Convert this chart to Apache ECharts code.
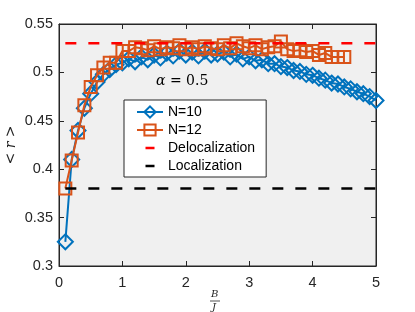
<!DOCTYPE html>
<html>
<head>
<meta charset="utf-8">
<script src="https://cdn.jsdelivr.net/npm/echarts@6/dist/echarts.min.js"></script>
<style>html,body{margin:0;padding:0;background:#fff}#c{width:415px;height:312px}</style>
</head>
<body>
<div id="c"></div>
<script>
var bJ10 = [0.1,0.2,0.3,0.4,0.5,0.6,0.7,0.8,0.9,1.0,1.1,1.2,1.3,1.4,1.5,1.6,1.7,1.8,1.9,2.0,2.1,2.2,2.3,2.4,2.5,2.6,2.7,2.8,2.9,3.0,3.1,3.2,3.3,3.4,3.5,3.6,3.7,3.8,3.9,4.0,4.1,4.2,4.3,4.4,4.5,4.6,4.7,4.8,4.9,5.0];
var r10 = [0.325,0.410,0.440,0.463,0.478,0.490,0.498,0.503,0.508,0.510,0.514,0.511,0.516,0.513,0.518,0.515,0.520,0.517,0.522,0.518,0.521,0.517,0.522,0.518,0.519,0.521,0.516,0.519,0.514,0.516,0.512,0.513,0.509,0.509,0.506,0.505,0.502,0.501,0.498,0.497,0.494,0.492,0.489,0.488,0.485,0.483,0.480,0.478,0.475,0.471];
var bJ12 = [0.1,0.2,0.3,0.4,0.5,0.6,0.7,0.8,0.9,1.0,1.1,1.2,1.3,1.4,1.5,1.6,1.7,1.8,1.9,2.0,2.1,2.2,2.3,2.4,2.5,2.6,2.7,2.8,2.9,3.0,3.1,3.2,3.3,3.4,3.5,3.6,3.7,3.8,3.9,4.0,4.1,4.2,4.3,4.4,4.5];
var r12 = [0.380,0.409,0.438,0.466,0.485,0.497,0.505,0.510,0.510,0.522,0.522,0.526,0.525,0.523,0.527,0.524,0.526,0.525,0.528,0.524,0.526,0.524,0.527,0.525,0.524,0.528,0.525,0.530,0.527,0.525,0.528,0.524,0.526,0.527,0.532,0.524,0.522,0.523,0.521,0.522,0.518,0.520,0.516,0.516,0.516];
var delocX = [0.1, 5];
var delocY = [0.53, 0.53];
var locX = [0.1, 5];
var locY = [0.38, 0.38];
var xTicks = [0,1,2,3,4,5];
var yTicks = [0.3,0.35,0.4,0.45,0.5,0.55];
var seriesNames = ['N=10','N=12','Delocalization','Localization'];

function pairs(xs, ys){ return xs.map(function(x,i){ return [x, ys[i]]; }); }

var txt = '#262626';
var font = 'Liberation Sans';
var chart = echarts.init(document.getElementById('c'), null, {renderer:'canvas'});
var barIcon = 'path://M0,0L0,0ZM26,14L26,14ZM8.5,5.7L17.5,5.7L17.5,8.3L8.5,8.3Z';
chart.setOption({
  animation:false,
  backgroundColor:'#ffffff',
  grid:{left:59,right:39,top:24,bottom:46,outerBoundsMode:'none',containLabel:false,show:true,backgroundColor:'#f0f0f0',borderColor:'#262626',borderWidth:1},
  xAxis:[{
    type:'value',min:xTicks[0],max:xTicks[xTicks.length-1],interval:1,
    axisLine:{show:true,onZero:false,lineStyle:{color:txt,width:1}},
    axisTick:{show:true,inside:true,length:5,lineStyle:{color:txt}},
    axisLabel:{color:txt,fontFamily:font,fontSize:14.5,margin:9},
    splitLine:{show:false}
  },{
    type:'value',position:'top',min:xTicks[0],max:xTicks[xTicks.length-1],interval:1,
    axisLine:{show:true,onZero:false,lineStyle:{color:txt,width:1}},
    axisTick:{show:true,inside:true,length:5,lineStyle:{color:txt}},
    axisLabel:{show:false},splitLine:{show:false}
  }],
  yAxis:[{
    type:'value',min:yTicks[0],max:yTicks[yTicks.length-1],interval:0.05,
    axisLine:{show:true,onZero:false,lineStyle:{color:txt,width:1}},
    axisTick:{show:true,inside:true,length:5,lineStyle:{color:txt}},
    axisLabel:{color:txt,fontFamily:font,fontSize:14.5,margin:6},
    splitLine:{show:false}
  },{
    type:'value',position:'right',min:yTicks[0],max:yTicks[yTicks.length-1],interval:0.05,
    axisLine:{show:true,onZero:false,lineStyle:{color:txt,width:1}},
    axisTick:{show:true,inside:true,length:5,lineStyle:{color:txt}},
    axisLabel:{show:false},splitLine:{show:false}
  }],
  legend:{
    orient:'vertical',left:124,top:100,
    padding:[5,11,4,12],itemGap:4,itemWidth:26,itemHeight:14,
    backgroundColor:'#ffffff',borderColor:'#262626',borderWidth:1,borderRadius:0,
    textStyle:{color:'#000',fontFamily:font,fontSize:14},
    data:[
      {name:seriesNames[0]},
      {name:seriesNames[1]},
      {name:seriesNames[2],icon:barIcon,itemStyle:{color:'#ff0000'}},
      {name:seriesNames[3],icon:barIcon,itemStyle:{color:'#000000'}}
    ]
  },
  series:[{
    name:seriesNames[0],type:'line',data:pairs(bJ10,r10),
    symbol:'diamond',symbolSize:[15,15],showAllSymbol:true,
    lineStyle:{color:'#0072BD',width:2},
    itemStyle:{color:'rgba(0,0,0,0)',borderColor:'#0072BD',borderWidth:2},
    z:2
  },{
    name:seriesNames[1],type:'line',data:pairs(bJ12,r12),
    symbol:'rect',symbolSize:[12,12],showAllSymbol:true,
    lineStyle:{color:'#D95319',width:2},
    itemStyle:{color:'rgba(0,0,0,0)',borderColor:'#D95319',borderWidth:2},
    z:3
  },{
    name:seriesNames[2],type:'line',data:pairs(delocX,delocY),symbol:'none',
    lineStyle:{color:'#ff0000',width:2.5,type:[11,12]},
    itemStyle:{color:'#ff0000'},z:4
  },{
    name:seriesNames[3],type:'line',data:pairs(locX,locY),symbol:'none',
    lineStyle:{color:'#000000',width:2.5,type:[11,12]},
    itemStyle:{color:'#000000'},z:4
  }],
  graphic:[
    {type:'text',x:11,y:145,rotation:Math.PI/2,style:{text:'< {i|r} >',align:'center',verticalAlign:'middle',fontFamily:'DejaVu Serif',fontSize:14,fill:txt,
      rich:{i:{fontStyle:'italic',fontFamily:'DejaVu Serif',fontSize:14,fill:txt}}}},
    {type:'text',left:156,top:74,style:{text:'{a|α} = 0.5',fontFamily:'DejaVu Serif',fontSize:14,fill:'#000',
      rich:{a:{fontStyle:'italic',fontFamily:'DejaVu Serif',fontSize:14,fill:'#000'}}}},
    {type:'text',left:211,top:289,style:{text:'B',fontFamily:'DejaVu Serif',fontStyle:'italic',fontSize:10,fill:txt}},
    {type:'line',shape:{x1:210,y1:301,x2:220,y2:301},style:{stroke:txt,lineWidth:0.8}},
    {type:'text',left:212,top:302,style:{text:'J',fontFamily:'DejaVu Serif',fontStyle:'italic',fontSize:10,fill:txt}}
  ]
});
</script>
</body>
</html>
